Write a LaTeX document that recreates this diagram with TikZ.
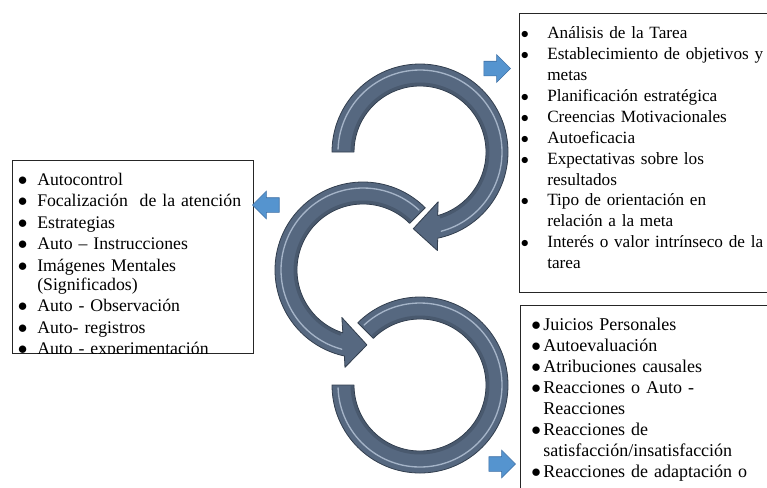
\documentclass[tikz,border=0pt]{standalone}
\usepackage{fontspec}
\setmainfont{Liberation Serif}
\usetikzlibrary{shapes.arrows}

\definecolor{ringblue}{RGB}{86,104,128}
\definecolor{ringdark}{RGB}{50,62,78}
\definecolor{ringshine}{RGB}{165,180,200}
\definecolor{cueblue}{RGB}{85,148,207}
\definecolor{cueline}{RGB}{62,112,165}

\newlength\bulx
\newlength\txtx
\newcommand{\bitem}[1]{\hangindent=\txtx\hangafter=1\noindent\makebox[\txtx][l]{\hspace*{\bulx}$\bullet$}#1\par}

\begin{document}
\begin{tikzpicture}[x=0.75pt, y=0.75pt,
    ring/.style={fill=ringblue, draw=ringdark, line width=0.6pt, line join=round},
    shine/.style={draw=ringshine, line width=1pt, line cap=round},
    shade/.style={draw=ringdark, line width=2.2pt, opacity=0.35},
    cue/.style={single arrow, draw=cueline, fill=cueblue, line width=0.5pt,
        inner xsep=0pt, inner ysep=5.25pt, minimum height=20pt,
        single arrow head extend=4.9pt},
    listbox/.style={draw=black!85, line width=0.75pt, anchor=north west, inner sep=0pt},
    list/.style={anchor=base west, inner sep=0pt, text width=270pt, align=left}]
    \useasboundingbox (0,0) rectangle (767,-487);
    \clip (0,0) rectangle (767,-487);

    % Boxes {ctrl, plan, refl}
    \node [listbox, minimum width=180.75pt, minimum height=144.75pt] (ctrl) at (12,-160)  {};
    \node [listbox, minimum width=204pt,    minimum height=209.25pt] (plan) at (519,-13)  {};
    \node [listbox, minimum width=204pt,    minimum height=150pt]    (refl) at (520,-305) {};

    % Texts
    \begin{scope}
        \clip (12,-160) rectangle (253,-353);
        \node [list, font=\fontsize{13.3}{14.25}\selectfont] (ctrltext) at (12,-185) {%
            \setlength\bulx{4.2pt}\setlength\txtx{18.75pt}\setlength\parskip{1.9pt}%
            \bitem{Autocontrol}
            \bitem{Focalización\ \ de la atención}
            \bitem{Estrategias}
            \bitem{Auto – Instrucciones}
            \bitem{Imágenes Mentales\newline (Significados)}
            \bitem{Auto - Observación}
            \bitem{Auto- registros}
            \bitem{Auto - experimentación}};
    \end{scope}
    \node [list, font=\fontsize{12.9}{15.7}\selectfont] (plantext) at (519,-38.5) {%
        \setlength\bulx{1.2pt}\setlength\txtx{21pt}%
        \bitem{Análisis de la Tarea}
        \bitem{Establecimiento de objetivos y\newline metas}
        \bitem{Planificación estratégica}
        \bitem{Creencias Motivacionales}
        \bitem{Autoeficacia}
        \bitem{Expectativas sobre los\newline resultados}
        \bitem{Tipo de orientación en\newline relación a la meta}
        \bitem{Interés o valor intrínseco de la\newline tarea}};
    \node [list, font=\fontsize{13.5}{15.8}\selectfont] (refltext) at (520,-330.5) {%
        \setlength\bulx{8.3pt}\setlength\txtx{17.25pt}%
        \bitem{Juicios Personales}
        \bitem{Autoevaluación}
        \bitem{Atribuciones causales}
        \bitem{Reacciones o Auto -\newline Reacciones}
        \bitem{Reacciones de\newline satisfacción/insatisfacción}
        \bitem{Reacciones de adaptación o}};

    % Rings
    \begin{scope}[shift={(420,-152)}]
        \filldraw [ring] (180:88) arc [start angle=180, end angle=-78.4, radius=88]
            -- (-80:100) -- (-95:77) -- (-70:53) -- (-74.4:66)
            arc [start angle=-74.4, end angle=180, radius=66] -- cycle;
        \draw [shine] (178:82) arc [start angle=178, end angle=-75, radius=82];
        \draw [shade] (179:68) arc [start angle=179, end angle=-73, radius=68];
    \end{scope}
    \begin{scope}[shift={(363,-270)}]
        \filldraw [ring] (45:88) arc [start angle=45, end angle=257.8, radius=88]
            -- (259.5:99) -- (273:75) -- (246:52) -- (252.2:66)
            arc [start angle=252.2, end angle=45, radius=66] -- cycle;
        \draw [shine] (47:82) arc [start angle=47, end angle=255, radius=82];
        \draw [shade] (46:68) arc [start angle=46, end angle=251, radius=68];
    \end{scope}
    \begin{scope}[shift={(420,-385)}]
        \filldraw [ring] (180:88) arc [start angle=180, end angle=495, radius=88]
            -- (135:66) arc [start angle=135, end angle=-180, radius=66] -- cycle;
        \draw [shine] (182:82) arc [start angle=182, end angle=493, radius=82];
        \draw [shade] (181:68) arc [start angle=181, end angle=494, radius=68];
    \end{scope}

    % Arrows
    \node [cue] (toplan) at (493.5,-68.5) {};
    \node [cue, shape border rotate=180] (toctrl) at (269.5,-205) {};
    \node [cue] (torefl) at (498.5,-464) {};
\end{tikzpicture}
\end{document}
